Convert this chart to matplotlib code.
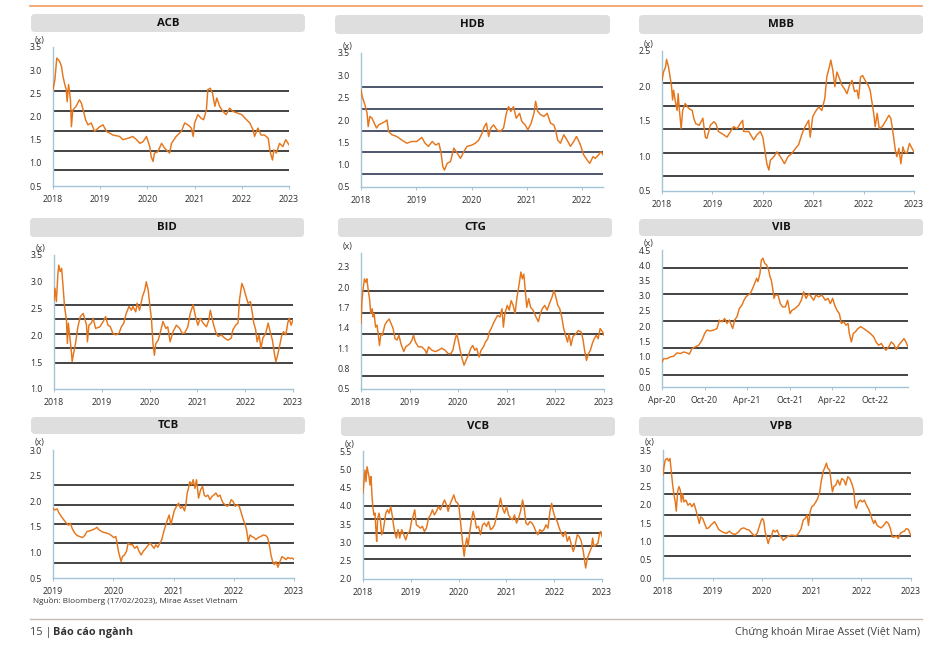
import matplotlib
matplotlib.use("Agg")
import matplotlib.pyplot as plt
from matplotlib.patches import FancyBboxPatch
from matplotlib.lines import Line2D

plt.rcParams['font.family'] = ['Open Sans', 'DejaVu Sans']

W, H = 946, 649

# ---------------- data (fractional year, P/B multiple) ----------------
acb_t = [2018.00, 2018.04, 2018.08, 2018.14, 2018.18, 2018.21, 2018.25, 2018.28, 2018.30, 2018.33,
         2018.37, 2018.39, 2018.42, 2018.49, 2018.56, 2018.60, 2018.64, 2018.69, 2018.74, 2018.81,
         2018.88, 2018.99, 2019.06, 2019.13, 2019.27, 2019.41, 2019.48, 2019.59, 2019.69, 2019.77,
         2019.84, 2019.91, 2019.98, 2020.05, 2020.08, 2020.12, 2020.15, 2020.22, 2020.30, 2020.37,
         2020.44, 2020.47, 2020.51, 2020.61, 2020.72, 2020.79, 2020.86, 2020.93, 2020.97, 2021.00,
         2021.07, 2021.14, 2021.19, 2021.25, 2021.28, 2021.33, 2021.38, 2021.43, 2021.47, 2021.53,
         2021.60, 2021.67, 2021.74, 2021.81, 2021.92, 2022.00, 2022.10, 2022.17, 2022.24, 2022.27,
         2022.34, 2022.41, 2022.48, 2022.56, 2022.60, 2022.65, 2022.68, 2022.73, 2022.80, 2022.87,
         2022.93, 2022.98, 2023.00]
acb_v = [2.58, 2.79, 3.26, 3.19, 3.08, 2.87, 2.69, 2.58, 2.32, 2.69,
         2.36, 1.78, 2.14, 2.22, 2.36, 2.29, 2.14, 1.93, 1.82, 1.86,
         1.68, 1.78, 1.82, 1.68, 1.60, 1.57, 1.50, 1.53, 1.57, 1.50,
         1.42, 1.46, 1.57, 1.35, 1.13, 1.03, 1.21, 1.24, 1.42, 1.31,
         1.24, 1.21, 1.42, 1.57, 1.68, 1.86, 1.82, 1.75, 1.57, 1.86,
         2.04, 1.96, 1.93, 2.14, 2.58, 2.61, 2.50, 2.22, 2.40, 2.22,
         2.11, 2.04, 2.18, 2.11, 2.07, 2.04, 1.93, 1.86, 1.71, 1.57,
         1.75, 1.60, 1.60, 1.53, 1.24, 1.06, 1.28, 1.21, 1.42, 1.35,
         1.50, 1.42, 1.39]
acb_bands = [2.54, 2.11, 1.69, 1.26, 0.84]

hdb_t = [2018.00, 2018.02, 2018.05, 2018.08, 2018.11, 2018.13, 2018.16, 2018.20, 2018.24, 2018.28,
         2018.32, 2018.38, 2018.44, 2018.47, 2018.50, 2018.56, 2018.65, 2018.74, 2018.83, 2018.92,
         2019.01, 2019.10, 2019.16, 2019.22, 2019.29, 2019.35, 2019.41, 2019.45, 2019.48, 2019.51,
         2019.56, 2019.62, 2019.68, 2019.74, 2019.80, 2019.86, 2019.92, 2020.01, 2020.07, 2020.13,
         2020.19, 2020.23, 2020.27, 2020.31, 2020.35, 2020.40, 2020.46, 2020.52, 2020.58, 2020.63,
         2020.67, 2020.71, 2020.76, 2020.81, 2020.87, 2020.91, 2020.97, 2021.02, 2021.08, 2021.13,
         2021.16, 2021.20, 2021.25, 2021.31, 2021.37, 2021.43, 2021.49, 2021.52, 2021.56, 2021.61,
         2021.67, 2021.73, 2021.79, 2021.85, 2021.90, 2021.96, 2022.03, 2022.09, 2022.14, 2022.20,
         2022.24, 2022.30, 2022.34, 2022.38]
hdb_v = [2.68, 2.53, 2.42, 2.30, 2.15, 1.85, 2.08, 2.04, 1.93, 1.82,
         1.89, 1.93, 1.97, 2.00, 1.74, 1.67, 1.63, 1.55, 1.48, 1.52,
         1.52, 1.61, 1.48, 1.41, 1.52, 1.44, 1.48, 1.26, 0.96, 0.88,
         1.03, 1.07, 1.37, 1.26, 1.14, 1.29, 1.41, 1.44, 1.48, 1.55,
         1.70, 1.85, 1.93, 1.63, 1.82, 1.89, 1.78, 1.74, 1.82, 2.15,
         2.30, 2.19, 2.30, 2.04, 2.15, 1.97, 1.89, 1.78, 1.93, 2.15,
         2.42, 2.19, 2.12, 2.08, 2.15, 1.93, 1.89, 1.78, 1.55, 1.48,
         1.67, 1.55, 1.41, 1.52, 1.63, 1.48, 1.22, 1.11, 1.03, 1.18,
         1.14, 1.22, 1.29, 1.22]
hdb_bands = [2.73, 2.25, 1.76, 1.28, 0.80]

mbb_t = [2018.00, 2018.03, 2018.07, 2018.09, 2018.13, 2018.16, 2018.19, 2018.21, 2018.23, 2018.26,
         2018.30, 2018.32, 2018.34, 2018.38, 2018.41, 2018.46, 2018.53, 2018.60, 2018.63, 2018.67,
         2018.74, 2018.81, 2018.86, 2018.89, 2018.96, 2019.03, 2019.07, 2019.12, 2019.19, 2019.29,
         2019.36, 2019.42, 2019.49, 2019.55, 2019.60, 2019.62, 2019.72, 2019.82, 2019.88, 2019.95,
         2020.00, 2020.05, 2020.08, 2020.12, 2020.15, 2020.22, 2020.28, 2020.35, 2020.43, 2020.50,
         2020.58, 2020.65, 2020.71, 2020.78, 2020.84, 2020.91, 2020.94, 2020.99, 2021.04, 2021.11,
         2021.17, 2021.23, 2021.27, 2021.32, 2021.35, 2021.39, 2021.43, 2021.47, 2021.52, 2021.57,
         2021.62, 2021.67, 2021.72, 2021.77, 2021.82, 2021.87, 2021.90, 2021.94, 2021.98, 2022.03,
         2022.09, 2022.13, 2022.17, 2022.20, 2022.23, 2022.27, 2022.31, 2022.37, 2022.43, 2022.50,
         2022.54, 2022.58, 2022.63, 2022.66, 2022.70, 2022.74, 2022.78, 2022.81, 2022.86, 2022.91,
         2022.96, 2023.00]
mbb_v = [2.08, 2.20, 2.27, 2.38, 2.27, 2.13, 1.99, 1.80, 1.94, 1.80,
         1.65, 1.89, 1.70, 1.39, 1.65, 1.75, 1.68, 1.65, 1.54, 1.46,
         1.44, 1.54, 1.27, 1.25, 1.44, 1.49, 1.46, 1.35, 1.32, 1.27,
         1.35, 1.42, 1.39, 1.46, 1.51, 1.35, 1.35, 1.23, 1.30, 1.35,
         1.27, 1.04, 0.89, 0.80, 0.94, 0.99, 1.06, 0.99, 0.89, 0.99,
         1.04, 1.11, 1.16, 1.32, 1.42, 1.51, 1.27, 1.56, 1.63, 1.70,
         1.65, 1.82, 2.13, 2.27, 2.37, 2.22, 1.99, 2.20, 2.11, 2.01,
         1.96, 1.89, 2.01, 2.08, 1.92, 1.94, 1.82, 2.13, 2.15, 2.08,
         2.01, 1.94, 1.75, 1.61, 1.42, 1.61, 1.39, 1.42, 1.49, 1.58,
         1.54, 1.35, 1.08, 0.99, 1.11, 0.89, 1.13, 1.06, 1.04, 1.18,
         1.11, 1.06]
mbb_bands = [2.05, 1.72, 1.39, 1.05, 0.72]

bid_t = [2018.00, 2018.02, 2018.05, 2018.08, 2018.10, 2018.13, 2018.16, 2018.19, 2018.22, 2018.26,
         2018.28, 2018.30, 2018.33, 2018.36, 2018.38, 2018.41, 2018.45, 2018.50, 2018.55, 2018.61,
         2018.65, 2018.68, 2018.70, 2018.73, 2018.78, 2018.82, 2018.87, 2018.96, 2019.03, 2019.08,
         2019.13, 2019.18, 2019.23, 2019.29, 2019.36, 2019.41, 2019.46, 2019.51, 2019.57, 2019.62,
         2019.65, 2019.71, 2019.74, 2019.79, 2019.85, 2019.90, 2019.93, 2019.97, 2020.00, 2020.04,
         2020.07, 2020.10, 2020.13, 2020.18, 2020.22, 2020.28, 2020.34, 2020.38, 2020.43, 2020.49,
         2020.56, 2020.63, 2020.68, 2020.73, 2020.80, 2020.85, 2020.91, 2020.96, 2021.01, 2021.06,
         2021.12, 2021.19, 2021.24, 2021.27, 2021.33, 2021.38, 2021.43, 2021.50, 2021.57, 2021.64,
         2021.71, 2021.74, 2021.80, 2021.85, 2021.88, 2021.93, 2021.97, 2022.01, 2022.06, 2022.11,
         2022.15, 2022.18, 2022.22, 2022.25, 2022.29, 2022.33, 2022.37, 2022.43, 2022.48, 2022.53,
         2022.57, 2022.61, 2022.64, 2022.67, 2022.71, 2022.76, 2022.80, 2022.85, 2022.89, 2022.92,
         2022.96, 2023.00]
bid_v = [2.66, 2.88, 2.63, 3.13, 3.31, 3.19, 3.25, 2.91, 2.54, 2.29,
         1.85, 2.23, 1.98, 1.73, 1.51, 1.67, 1.85, 2.16, 2.35, 2.41,
         2.29, 2.19, 1.88, 2.19, 2.23, 2.32, 2.13, 2.16, 2.26, 2.35,
         2.19, 2.16, 2.04, 2.01, 2.04, 2.16, 2.23, 2.41, 2.54, 2.47,
         2.54, 2.44, 2.60, 2.47, 2.72, 2.85, 3.00, 2.85, 2.60, 2.29,
         1.85, 1.63, 1.85, 1.91, 2.04, 2.26, 2.13, 2.16, 1.88, 2.07,
         2.19, 2.13, 2.04, 2.04, 2.16, 2.41, 2.57, 2.35, 2.19, 2.32,
         2.23, 2.16, 2.29, 2.47, 2.23, 2.07, 1.98, 2.01, 1.95, 1.91,
         1.95, 2.10, 2.19, 2.23, 2.66, 2.97, 2.88, 2.75, 2.60, 2.63,
         2.41, 2.23, 2.10, 1.88, 2.01, 1.76, 1.95, 2.04, 2.23, 2.04,
         1.91, 1.67, 1.51, 1.60, 1.76, 1.98, 2.07, 2.01, 2.23, 2.32,
         2.19, 2.29]
bid_bands = [2.57, 2.30, 2.03, 1.76, 1.49]

ctg_t = [2018.00, 2018.02, 2018.04, 2018.07, 2018.10, 2018.12, 2018.15, 2018.18, 2018.20, 2018.23,
         2018.25, 2018.27, 2018.30, 2018.33, 2018.36, 2018.38, 2018.41, 2018.44, 2018.49, 2018.53,
         2018.58, 2018.62, 2018.66, 2018.70, 2018.74, 2018.78, 2018.82, 2018.88, 2018.92, 2018.96,
         2019.01, 2019.05, 2019.08, 2019.12, 2019.18, 2019.25, 2019.32, 2019.35, 2019.39, 2019.46,
         2019.53, 2019.59, 2019.66, 2019.73, 2019.79, 2019.85, 2019.89, 2019.94, 2019.97, 2020.00,
         2020.04, 2020.08, 2020.12, 2020.16, 2020.21, 2020.26, 2020.30, 2020.34, 2020.38, 2020.43,
         2020.47, 2020.52, 2020.56, 2020.61, 2020.64, 2020.68, 2020.72, 2020.77, 2020.81, 2020.86,
         2020.90, 2020.93, 2020.96, 2021.01, 2021.05, 2021.09, 2021.13, 2021.17, 2021.21, 2021.26,
         2021.29, 2021.32, 2021.35, 2021.38, 2021.41, 2021.45, 2021.49, 2021.54, 2021.60, 2021.65,
         2021.69, 2021.73, 2021.78, 2021.83, 2021.89, 2021.93, 2021.97, 2022.01, 2022.05, 2022.09,
         2022.13, 2022.17, 2022.21, 2022.25, 2022.28, 2022.32, 2022.36, 2022.42, 2022.47, 2022.53,
         2022.57, 2022.60, 2022.64, 2022.68, 2022.72, 2022.76, 2022.80, 2022.84, 2022.88, 2022.92,
         2022.97, 2023.00]
ctg_v = [1.46, 1.80, 1.95, 2.12, 2.07, 2.12, 1.95, 1.80, 1.61, 1.68,
         1.56, 1.61, 1.41, 1.44, 1.27, 1.14, 1.31, 1.29, 1.44, 1.49,
         1.53, 1.46, 1.39, 1.24, 1.22, 1.29, 1.17, 1.05, 1.12, 1.14,
         1.17, 1.22, 1.29, 1.19, 1.12, 1.12, 1.07, 1.02, 1.12, 1.07,
         1.05, 1.07, 1.10, 1.07, 1.02, 1.02, 1.07, 1.24, 1.31, 1.22,
         1.07, 0.95, 0.85, 0.92, 1.00, 1.10, 1.14, 1.07, 1.10, 0.97,
         1.07, 1.12, 1.19, 1.24, 1.34, 1.39, 1.46, 1.53, 1.58, 1.56,
         1.68, 1.41, 1.61, 1.73, 1.66, 1.80, 1.73, 1.61, 1.85, 2.07,
         2.22, 2.12, 2.19, 1.95, 1.70, 1.83, 1.70, 1.66, 1.56, 1.49,
         1.61, 1.68, 1.73, 1.66, 1.78, 1.85, 1.95, 1.85, 1.73, 1.68,
         1.56, 1.39, 1.29, 1.19, 1.31, 1.14, 1.27, 1.31, 1.36, 1.34,
         1.22, 1.07, 0.92, 1.02, 1.07, 1.17, 1.24, 1.29, 1.24, 1.39,
         1.34, 1.29]
ctg_bands = [1.94, 1.62, 1.31, 1.00, 0.69]

vib_t = [2020.250, 2020.270, 2020.309, 2020.348, 2020.387, 2020.426, 2020.466, 2020.505, 2020.544, 2020.571,
         2020.603, 2020.642, 2020.681, 2020.720, 2020.752, 2020.779, 2020.818, 2020.857, 2020.897, 2020.924,
         2020.955, 2020.987, 2021.014, 2021.042, 2021.065, 2021.081, 2021.104, 2021.132, 2021.159, 2021.190,
         2021.214, 2021.237, 2021.261, 2021.288, 2021.316, 2021.339, 2021.363, 2021.378, 2021.402, 2021.418,
         2021.437, 2021.457, 2021.480, 2021.504, 2021.520, 2021.535, 2021.551, 2021.567, 2021.582, 2021.614,
         2021.641, 2021.668, 2021.700, 2021.727, 2021.755, 2021.778, 2021.817, 2021.857, 2021.888, 2021.915,
         2021.943, 2021.974, 2022.006, 2022.033, 2022.060, 2022.092, 2022.131, 2022.170, 2022.201, 2022.229,
         2022.256, 2022.280, 2022.307, 2022.335, 2022.358, 2022.386, 2022.413, 2022.437, 2022.452, 2022.476,
         2022.499, 2022.523, 2022.554, 2022.585, 2022.621, 2022.660, 2022.699, 2022.738, 2022.766, 2022.797,
         2022.828, 2022.856, 2022.883, 2022.915, 2022.946, 2022.973, 2023.005, 2023.032, 2023.063, 2023.095,
         2023.118, 2023.142]
vib_v = [0.82, 0.93, 0.93, 0.99, 1.01, 1.12, 1.10, 1.15, 1.12, 1.08,
         1.26, 1.32, 1.37, 1.54, 1.76, 1.87, 1.84, 1.87, 1.92, 2.20,
         2.14, 2.25, 2.09, 2.20, 2.03, 1.92, 2.20, 2.31, 2.58, 2.69,
         2.85, 2.96, 3.02, 3.07, 3.24, 3.40, 3.57, 3.46, 3.73, 4.17,
         4.23, 4.06, 4.01, 3.84, 3.62, 3.51, 3.24, 2.91, 3.02, 3.02,
         2.74, 2.63, 2.63, 2.85, 2.41, 2.52, 2.58, 2.69, 2.85, 3.13,
         2.91, 3.07, 2.96, 2.85, 3.02, 2.96, 3.02, 2.85, 2.91, 2.74,
         2.91, 2.69, 2.52, 2.41, 2.09, 2.14, 2.03, 2.09, 1.76, 1.48,
         1.76, 1.81, 1.92, 1.98, 1.92, 1.84, 1.76, 1.65, 1.48, 1.37,
         1.43, 1.30, 1.21, 1.32, 1.48, 1.41, 1.23, 1.37, 1.48, 1.59,
         1.48, 1.32]
vib_bands = [3.92, 3.04, 2.16, 1.28, 0.41]

tcb_t = [2019.000, 2019.028, 2019.066, 2019.100, 2019.139, 2019.177, 2019.222, 2019.260, 2019.288, 2019.321,
         2019.360, 2019.399, 2019.443, 2019.488, 2019.526, 2019.565, 2019.609, 2019.654, 2019.693, 2019.731,
         2019.765, 2019.803, 2019.842, 2019.886, 2019.931, 2019.970, 2020.008, 2020.042, 2020.064, 2020.086,
         2020.108, 2020.130, 2020.152, 2020.186, 2020.219, 2020.247, 2020.285, 2020.319, 2020.357, 2020.396,
         2020.429, 2020.463, 2020.496, 2020.540, 2020.584, 2020.618, 2020.651, 2020.679, 2020.706, 2020.740,
         2020.773, 2020.806, 2020.839, 2020.873, 2020.900, 2020.928, 2020.956, 2020.983, 2021.011, 2021.050,
         2021.083, 2021.116, 2021.150, 2021.183, 2021.205, 2021.227, 2021.249, 2021.271, 2021.299, 2021.327,
         2021.355, 2021.382, 2021.416, 2021.449, 2021.482, 2021.510, 2021.537, 2021.571, 2021.604, 2021.637,
         2021.670, 2021.704, 2021.737, 2021.770, 2021.798, 2021.825, 2021.859, 2021.892, 2021.925, 2021.958,
         2021.992, 2022.025, 2022.058, 2022.091, 2022.125, 2022.158, 2022.191, 2022.213, 2022.241, 2022.269,
         2022.302, 2022.335, 2022.368, 2022.407, 2022.446, 2022.490, 2022.529, 2022.562, 2022.590, 2022.618,
         2022.645, 2022.673, 2022.701, 2022.734, 2022.767, 2022.801, 2022.834, 2022.867, 2022.900, 2022.934,
         2022.967, 2023.000]
tcb_v = [1.86, 1.83, 1.85, 1.77, 1.70, 1.64, 1.57, 1.53, 1.57, 1.46,
         1.38, 1.33, 1.31, 1.29, 1.33, 1.41, 1.42, 1.44, 1.46, 1.49,
         1.44, 1.41, 1.39, 1.38, 1.36, 1.33, 1.29, 1.31, 1.18, 1.02,
         0.92, 0.82, 0.92, 0.95, 1.02, 1.18, 1.15, 1.15, 1.08, 1.12,
         1.02, 0.95, 1.02, 1.08, 1.15, 1.18, 1.12, 1.08, 1.15, 1.10,
         1.18, 1.25, 1.41, 1.54, 1.64, 1.73, 1.54, 1.67, 1.81, 1.90,
         1.96, 1.86, 1.90, 1.81, 1.93, 2.16, 2.25, 2.38, 2.32, 2.42,
         2.25, 2.42, 2.06, 2.22, 2.29, 2.12, 2.09, 2.12, 2.03, 2.09,
         2.12, 2.16, 2.09, 2.12, 2.03, 1.96, 1.93, 1.90, 1.93, 2.03,
         1.99, 1.90, 1.93, 1.90, 1.77, 1.64, 1.54, 1.44, 1.21, 1.34,
         1.31, 1.29, 1.25, 1.29, 1.31, 1.34, 1.33, 1.29, 1.15, 0.95,
         0.82, 0.76, 0.82, 0.71, 0.82, 0.92, 0.89, 0.86, 0.90, 0.88,
         0.89, 0.86]
tcb_bands = [2.31, 1.93, 1.55, 1.18, 0.80]

vcb_t = [2018.000, 2018.021, 2018.042, 2018.063, 2018.084, 2018.105, 2018.126, 2018.147, 2018.168, 2018.189,
         2018.209, 2018.230, 2018.251, 2018.272, 2018.286, 2018.307, 2018.335, 2018.363, 2018.391, 2018.419,
         2018.447, 2018.475, 2018.510, 2018.545, 2018.580, 2018.615, 2018.642, 2018.670, 2018.698, 2018.733,
         2018.768, 2018.810, 2018.852, 2018.894, 2018.936, 2018.978, 2019.013, 2019.047, 2019.082, 2019.117,
         2019.159, 2019.201, 2019.243, 2019.285, 2019.327, 2019.369, 2019.411, 2019.453, 2019.494, 2019.536,
         2019.578, 2019.620, 2019.662, 2019.704, 2019.746, 2019.781, 2019.816, 2019.858, 2019.899, 2019.941,
         2019.983, 2020.011, 2020.039, 2020.067, 2020.095, 2020.116, 2020.144, 2020.172, 2020.200, 2020.235,
         2020.270, 2020.304, 2020.339, 2020.374, 2020.416, 2020.458, 2020.500, 2020.542, 2020.584, 2020.626,
         2020.668, 2020.709, 2020.751, 2020.793, 2020.835, 2020.877, 2020.919, 2020.961, 2021.003, 2021.045,
         2021.087, 2021.128, 2021.170, 2021.212, 2021.254, 2021.296, 2021.338, 2021.373, 2021.408, 2021.450,
         2021.492, 2021.534, 2021.575, 2021.617, 2021.659, 2021.701, 2021.743, 2021.785, 2021.827, 2021.869,
         2021.911, 2021.946, 2021.980, 2022.022, 2022.064, 2022.106, 2022.148, 2022.190, 2022.232, 2022.274,
         2022.316, 2022.358, 2022.399, 2022.441, 2022.483, 2022.525, 2022.567, 2022.609, 2022.637, 2022.658,
         2022.693, 2022.735, 2022.777, 2022.804, 2022.832, 2022.874, 2022.916, 2022.944, 2022.972, 2023.000]
vcb_v = [4.35, 4.66, 4.98, 4.66, 5.07, 4.94, 4.80, 4.57, 4.80, 4.25,
         3.94, 3.75, 3.80, 3.30, 3.03, 3.66, 3.80, 3.62, 3.21, 3.30,
         3.53, 3.80, 3.89, 3.80, 3.98, 3.71, 3.44, 3.25, 3.12, 3.35,
         3.12, 3.35, 3.21, 3.07, 3.25, 3.30, 3.57, 3.71, 3.89, 3.48,
         3.44, 3.39, 3.44, 3.30, 3.39, 3.66, 3.75, 3.89, 3.75, 3.85,
         3.98, 3.89, 4.03, 4.16, 4.03, 3.85, 4.03, 4.16, 4.30, 4.12,
         4.07, 3.94, 3.57, 3.21, 2.85, 2.62, 2.94, 3.12, 2.89, 3.30,
         3.62, 3.85, 3.66, 3.39, 3.44, 3.21, 3.48, 3.53, 3.44, 3.57,
         3.35, 3.39, 3.48, 3.71, 3.94, 4.21, 3.94, 3.80, 3.98, 3.75,
         3.66, 3.62, 3.75, 3.53, 3.66, 3.85, 4.16, 3.94, 3.53, 3.48,
         3.57, 3.53, 3.44, 3.30, 3.21, 3.35, 3.30, 3.35, 3.48, 3.39,
         3.85, 4.07, 3.85, 3.66, 3.57, 3.39, 3.25, 3.16, 3.30, 3.03,
         3.16, 2.94, 2.75, 2.94, 3.21, 3.16, 3.03, 2.75, 2.48, 2.30,
         2.57, 2.71, 2.85, 3.12, 2.89, 2.94, 2.98, 3.21, 3.30, 3.16]
vcb_bands = [4.00, 3.64, 3.27, 2.91, 2.55]

vpb_t = [2018.000, 2018.020, 2018.047, 2018.081, 2018.114, 2018.141, 2018.168, 2018.195, 2018.221, 2018.248,
         2018.268, 2018.295, 2018.322, 2018.349, 2018.369, 2018.396, 2018.423, 2018.463, 2018.503, 2018.544,
         2018.584, 2018.624, 2018.664, 2018.705, 2018.732, 2018.758, 2018.799, 2018.839, 2018.879, 2018.919,
         2018.960, 2019.000, 2019.040, 2019.081, 2019.121, 2019.174, 2019.228, 2019.282, 2019.336, 2019.389,
         2019.456, 2019.523, 2019.577, 2019.631, 2019.685, 2019.738, 2019.792, 2019.846, 2019.899, 2019.940,
         2019.980, 2020.007, 2020.034, 2020.060, 2020.094, 2020.121, 2020.148, 2020.181, 2020.221, 2020.262,
         2020.302, 2020.342, 2020.383, 2020.423, 2020.463, 2020.517, 2020.570, 2020.624, 2020.678, 2020.732,
         2020.785, 2020.826, 2020.866, 2020.906, 2020.933, 2020.966, 2021.000, 2021.040, 2021.081, 2021.121,
         2021.161, 2021.188, 2021.228, 2021.268, 2021.295, 2021.322, 2021.362, 2021.389, 2021.416, 2021.443,
         2021.483, 2021.523, 2021.564, 2021.604, 2021.644, 2021.685, 2021.725, 2021.765, 2021.805, 2021.846,
         2021.872, 2021.899, 2021.940, 2021.980, 2022.020, 2022.060, 2022.101, 2022.141, 2022.181, 2022.221,
         2022.248, 2022.275, 2022.315, 2022.356, 2022.396, 2022.450, 2022.503, 2022.544, 2022.584, 2022.624,
         2022.664, 2022.705, 2022.745, 2022.785, 2022.826, 2022.866, 2022.906, 2022.946, 2022.980, 2023.000]
vpb_v = [2.82, 3.04, 3.23, 3.27, 3.20, 3.27, 2.91, 2.54, 2.27, 2.08,
         1.83, 2.36, 2.50, 2.40, 2.08, 2.31, 2.08, 2.13, 1.99, 2.04,
         1.95, 2.04, 1.86, 1.63, 1.49, 1.67, 1.63, 1.49, 1.35, 1.37,
         1.44, 1.49, 1.54, 1.44, 1.33, 1.28, 1.24, 1.22, 1.28, 1.22,
         1.19, 1.26, 1.35, 1.37, 1.33, 1.31, 1.22, 1.15, 1.22, 1.40,
         1.58, 1.63, 1.54, 1.26, 1.08, 0.94, 1.08, 1.12, 1.31, 1.26,
         1.31, 1.17, 1.12, 1.03, 1.08, 1.14, 1.17, 1.17, 1.15, 1.22,
         1.35, 1.58, 1.63, 1.72, 1.44, 1.81, 1.95, 1.99, 2.08, 2.18,
         2.36, 2.63, 2.91, 3.04, 3.14, 3.00, 2.95, 2.63, 2.36, 2.50,
         2.54, 2.68, 2.54, 2.72, 2.68, 2.54, 2.77, 2.72, 2.59, 2.40,
         1.99, 1.90, 2.08, 2.13, 2.08, 2.13, 1.99, 1.90, 1.76, 1.58,
         1.49, 1.58, 1.44, 1.40, 1.37, 1.44, 1.54, 1.49, 1.35, 1.12,
         1.12, 1.15, 1.08, 1.22, 1.26, 1.28, 1.35, 1.33, 1.22, 1.17]
vpb_bands = [2.86, 2.29, 1.73, 1.16, 0.60]

names = ["ACB", "HDB", "MBB", "BID", "CTG", "VIB", "TCB", "VCB", "VPB"]
years18 = [2018, 2019, 2020, 2021, 2022, 2023]
year_labels18 = ["2018", "2019", "2020", "2021", "2022", "2023"]
vib_ticks = [2020.25, 2020.75, 2021.25, 2021.75, 2022.25, 2022.75]
vib_labels = ["Apr-20", "Oct-20", "Apr-21", "Oct-21", "Apr-22", "Oct-22"]

# ---------------- layout (pixels) ----------------
ORANGE = "#E5761C"
TICKC = "#2e2e2e"
SPINEC = "#a3c3d8"

panels = [
    dict(name="ACB", t=acb_t, v=acb_v, bands=acb_bands, bc="#111111", ylim=(0.5, 3.5),
         yt=[0.5, 1.0, 1.5, 2.0, 2.5, 3.0, 3.5], xlim=(2018, 2023), xt=years18, xl=year_labels18,
         box=(53, 289, 47, 186), tbox=(31, 305, 14, 32)),
    dict(name="HDB", t=hdb_t, v=hdb_v, bands=hdb_bands, bc="#1c2845", ylim=(0.5, 3.5),
         yt=[0.5, 1.0, 1.5, 2.0, 2.5, 3.0, 3.5], xlim=(2018, 2022.38), xt=years18[:5], xl=year_labels18[:5],
         box=(361, 603, 53, 187), tbox=(335, 610, 15, 34)),
    dict(name="MBB", t=mbb_t, v=mbb_v, bands=mbb_bands, bc="#111111", ylim=(0.5, 2.5),
         yt=[0.5, 1.0, 1.5, 2.0, 2.5], xlim=(2018, 2023), xt=years18, xl=year_labels18,
         box=(662, 914, 51, 191), tbox=(639, 923, 15, 34)),
    dict(name="BID", t=bid_t, v=bid_v, bands=bid_bands, bc="#111111", ylim=(1.0, 3.5),
         yt=[1.0, 1.5, 2.0, 2.5, 3.0, 3.5], xlim=(2018, 2023), xt=years18, xl=year_labels18,
         box=(54, 293, 255, 389), tbox=(30, 304, 218, 237)),
    dict(name="CTG", t=ctg_t, v=ctg_v, bands=ctg_bands, bc="#111111", ylim=(0.5, 2.5),
         yt=[0.5, 0.8, 1.1, 1.4, 1.7, 2.0, 2.3], xlim=(2018, 2023), xt=years18, xl=year_labels18,
         box=(361, 604, 253, 389), tbox=(338, 612, 218, 237)),
    dict(name="VIB", t=vib_t, v=vib_v, bands=vib_bands, bc="#111111", ylim=(0.0, 4.5),
         yt=[0.0, 0.5, 1.0, 1.5, 2.0, 2.5, 3.0, 3.5, 4.0, 4.5], xlim=(2020.25, 2023.142), xt=vib_ticks, xl=vib_labels,
         box=(662, 908, 250, 387), tbox=(639, 923, 219, 236)),
    dict(name="TCB", t=tcb_t, v=tcb_v, bands=tcb_bands, bc="#111111", ylim=(0.5, 3.0),
         yt=[0.5, 1.0, 1.5, 2.0, 2.5, 3.0], xlim=(2019, 2023), xt=years18[1:], xl=year_labels18[1:],
         box=(53, 294, 450, 578), tbox=(31, 305, 417, 434)),
    dict(name="VCB", t=vcb_t, v=vcb_v, bands=vcb_bands, bc="#111111", ylim=(2.0, 5.5),
         yt=[2.0, 2.5, 3.0, 3.5, 4.0, 4.5, 5.0, 5.5], xlim=(2018, 2023), xt=years18, xl=year_labels18,
         box=(363, 602, 451, 579), tbox=(341, 615, 417, 436)),
    dict(name="VPB", t=vpb_t, v=vpb_v, bands=vpb_bands, bc="#111111", ylim=(0.0, 3.5),
         yt=[0.0, 0.5, 1.0, 1.5, 2.0, 2.5, 3.0, 3.5], xlim=(2018, 2023), xt=years18, xl=year_labels18,
         box=(663, 911, 450, 578), tbox=(639, 923, 417, 436)),
]

fig = plt.figure(figsize=(W / 100, H / 100), dpi=100)
fig.patch.set_facecolor("white")

for p in panels:
    l, r, t, b = p["box"]
    ax = fig.add_axes([l / W, 1 - b / H, (r - l) / W, (b - t) / H])
    ax.set_facecolor("none")
    for lv in p["bands"]:
        ax.axhline(lv, color=p["bc"], lw=1.1, zorder=1)
    ax.plot(p["t"], p["v"], color=ORANGE, lw=1.05, zorder=3, solid_joinstyle="round")
    ax.set_xlim(*p["xlim"])
    ax.set_ylim(*p["ylim"])
    ax.set_yticks(p["yt"])
    ax.set_yticklabels([f"{y:.1f}" for y in p["yt"]])
    ax.set_xticks(p["xt"])
    ax.set_xticklabels(p["xl"])
    for s in ["top", "right"]:
        ax.spines[s].set_visible(False)
    for s in ["left", "bottom"]:
        ax.spines[s].set_color(SPINEC)
        ax.spines[s].set_linewidth(1.0)
    ax.tick_params(axis="y", length=0, pad=8, labelsize=6.3, labelcolor=TICKC)
    ax.tick_params(axis="x", length=2.5, width=0.7, color=SPINEC, pad=4, labelsize=6.3, labelcolor=TICKC)
    ax.annotate("(x)", xy=(0, 1), xycoords="axes fraction", xytext=(-13, 7),
                textcoords="offset pixels", ha="center", va="center", fontsize=6.3, color=TICKC)

    x0, x1, y0, y1 = p["tbox"]
    box = FancyBboxPatch((x0 / 100, (H - y1) / 100), (x1 - x0) / 100, (y1 - y0) / 100,
                         boxstyle="round,pad=0,rounding_size=0.04",
                         transform=fig.dpi_scale_trans, facecolor="#dedede", edgecolor="none")
    fig.patches.append(box)
    fig.text((x0 + x1) / 2 / W, 1 - (y0 + y1) / 2 / H, p["name"], ha="center", va="center",
             fontsize=8.2, fontweight="bold", color="#111111")

# header rule
fig.add_artist(Line2D([30 / W, 922 / W], [1 - 6 / H, 1 - 6 / H], color="#f3a46c", lw=1.3))
# source
fig.text(33 / W, 1 - 601 / H, "Nguồn: Bloomberg (17/02/2023), Mirae Asset Vietnam",
         ha="left", va="center", fontsize=5.9, color="#333333")
# footer rule and texts
fig.add_artist(Line2D([30 / W, 922 / W], [1 - 619 / H, 1 - 619 / H], color="#c6bcb2", lw=1.0))
fig.text(30 / W, 1 - 632 / H, "15 |", ha="left", va="center", fontsize=7.8, color="#444444")
fig.text(53 / W, 1 - 632 / H, "Báo cáo ngành", ha="left", va="center", fontsize=7.8,
         fontweight="bold", color="#333333")
fig.text(920 / W, 1 - 632 / H, "Chứng khoán Mirae Asset (Việt Nam)", ha="right", va="center",
         fontsize=7.8, color="#444444")

fig.savefig("out.png", dpi=100, facecolor="white")
